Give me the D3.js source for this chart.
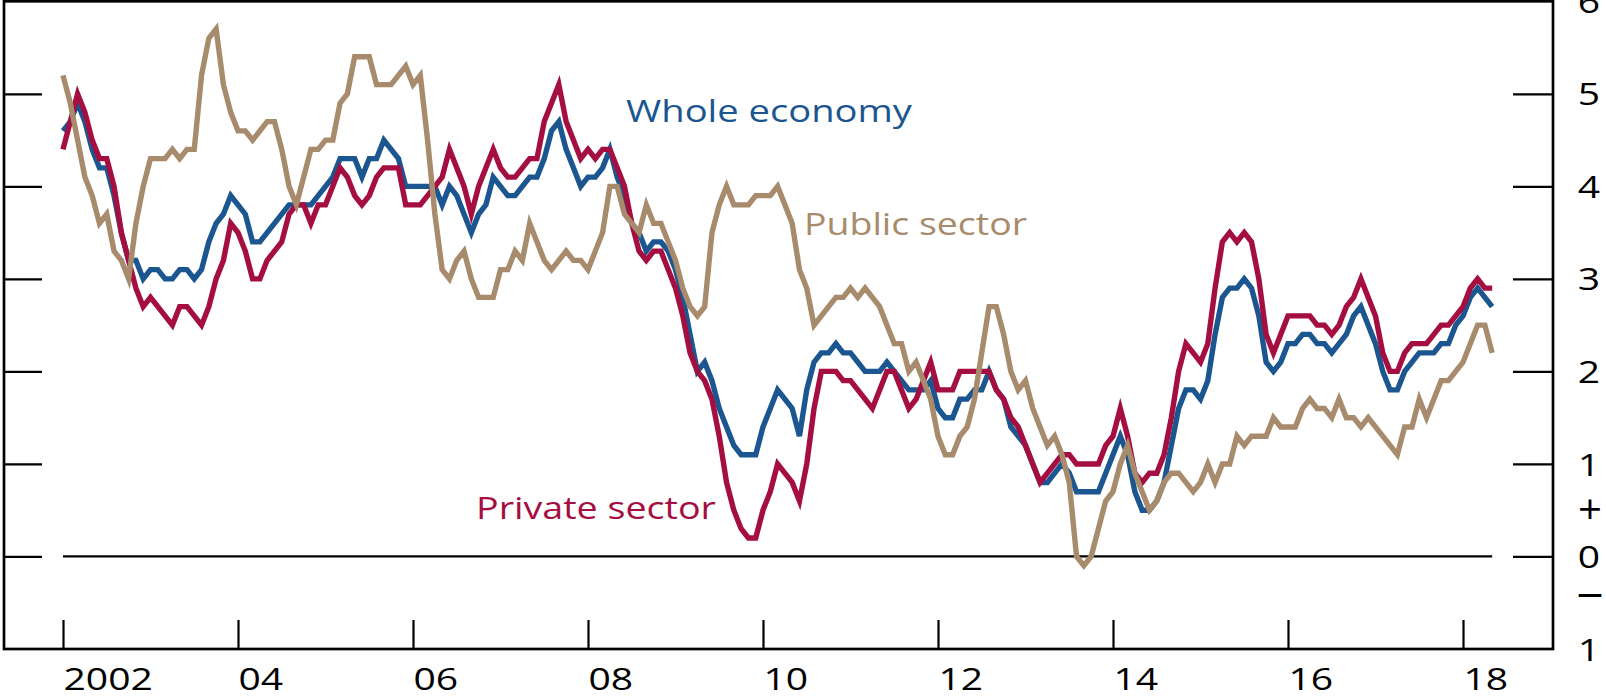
<!DOCTYPE html>
<html><head><meta charset="utf-8">
<script src="https://cdn.jsdelivr.net/npm/d3@7"></script>
<style>html,body{margin:0;padding:0;background:#fff;overflow:hidden}svg{display:block}</style>
</head><body><svg id="chart" width="1606" height="698"></svg>
<script>
// ---- data (monthly, Jan 2002 .. May 2018), percentage change ----
const startYear = 2002;
const wholeEconomy = [
4.6,4.7,4.9,4.7,4.4,4.2,4.2,3.9,3.5,3.2,3.2,3.0,
3.1,3.1,3.0,3.0,3.1,3.1,3.0,3.1,3.4,3.6,3.7,3.9,
3.8,3.7,3.4,3.4,3.5,3.6,3.7,3.8,3.8,3.8,3.8,3.9,
4.0,4.1,4.3,4.3,4.3,4.1,4.3,4.3,4.5,4.4,4.3,4.0,
4.0,4.0,4.0,4.0,3.8,4.0,3.9,3.7,3.5,3.7,3.8,4.1,
4.0,3.9,3.9,4.0,4.1,4.1,4.3,4.6,4.7,4.4,4.2,4.0,
4.1,4.1,4.2,4.4,4.1,3.9,3.6,3.5,3.3,3.4,3.4,3.3,
3.1,2.8,2.4,2.0,2.1,1.9,1.6,1.4,1.2,1.1,1.1,1.1,
1.4,1.6,1.8,1.7,1.6,1.3,1.8,2.1,2.2,2.2,2.3,2.2,
2.2,2.1,2.0,2.0,2.0,2.1,2.0,1.9,1.8,1.8,1.8,1.9,
1.6,1.5,1.5,1.7,1.7,1.8,1.8,2.0,1.8,1.7,1.4,1.3,
1.2,1.0,0.8,0.8,0.9,1.0,0.9,0.7,0.7,0.7,0.7,0.9,
1.1,1.3,1.1,0.7,0.5,0.5,0.6,0.8,1.2,1.6,1.8,1.8,
1.7,1.9,2.4,2.8,2.9,2.9,3.0,2.9,2.6,2.1,2.0,2.1,
2.3,2.3,2.4,2.4,2.3,2.3,2.2,2.3,2.4,2.6,2.7,2.5,
2.3,2.0,1.8,1.8,2.0,2.1,2.2,2.2,2.2,2.3,2.3,2.5,
2.6,2.8,2.9,2.8,2.7
];
const privateSector = [
4.4,4.7,5.0,4.8,4.5,4.3,4.3,4.0,3.5,3.2,2.9,2.7,
2.8,2.7,2.6,2.5,2.7,2.7,2.6,2.5,2.7,3.0,3.2,3.6,
3.5,3.3,3.0,3.0,3.2,3.3,3.4,3.7,3.8,3.8,3.6,3.8,
3.8,4.0,4.2,4.1,3.9,3.8,3.9,4.1,4.2,4.2,4.2,3.8,
3.8,3.8,3.9,4.0,4.1,4.4,4.2,4.0,3.7,4.0,4.2,4.4,
4.2,4.1,4.1,4.2,4.3,4.3,4.7,4.9,5.1,4.7,4.5,4.3,
4.4,4.3,4.4,4.4,4.2,4.0,3.6,3.3,3.2,3.3,3.3,3.1,
2.9,2.6,2.2,2.0,1.9,1.7,1.3,0.8,0.5,0.3,0.2,0.2,
0.5,0.7,1.0,0.9,0.8,0.6,1.0,1.6,2.0,2.0,2.0,1.9,
1.9,1.8,1.7,1.6,1.8,2.0,2.0,1.8,1.6,1.7,1.9,2.1,
1.8,1.8,1.8,2.0,2.0,2.0,2.0,2.0,1.8,1.7,1.5,1.4,
1.2,1.0,0.8,0.9,1.0,1.1,1.1,1.0,1.0,1.0,1.0,1.2,
1.3,1.6,1.3,0.9,0.8,0.9,0.9,1.1,1.5,2.0,2.3,2.2,
2.1,2.3,2.9,3.4,3.5,3.4,3.5,3.4,3.0,2.4,2.2,2.4,
2.6,2.6,2.6,2.6,2.5,2.5,2.4,2.5,2.7,2.8,3.0,2.8,
2.6,2.2,2.0,2.0,2.2,2.3,2.3,2.3,2.4,2.5,2.5,2.6,
2.7,2.9,3.0,2.9,2.9
];
const publicSector = [
5.2,4.9,4.5,4.1,3.9,3.6,3.7,3.3,3.2,3.0,3.6,4.0,
4.3,4.3,4.3,4.4,4.3,4.4,4.4,5.2,5.6,5.7,5.1,4.8,
4.6,4.6,4.5,4.6,4.7,4.7,4.4,4.0,3.8,4.1,4.4,4.4,
4.5,4.5,4.9,5.0,5.4,5.4,5.4,5.1,5.1,5.1,5.2,5.3,
5.1,5.2,4.5,3.7,3.1,3.0,3.2,3.3,3.0,2.8,2.8,2.8,
3.1,3.1,3.3,3.2,3.6,3.4,3.2,3.1,3.2,3.3,3.2,3.2,
3.1,3.3,3.5,4.0,4.0,3.7,3.6,3.5,3.8,3.6,3.6,3.4,
3.2,2.9,2.7,2.6,2.7,3.5,3.8,4.0,3.8,3.8,3.8,3.9,
3.9,3.9,4.0,3.8,3.6,3.1,2.9,2.5,2.6,2.7,2.8,2.8,
2.9,2.8,2.9,2.8,2.7,2.5,2.3,2.3,2.0,2.1,1.9,1.7,
1.3,1.1,1.1,1.3,1.4,1.7,2.2,2.7,2.7,2.4,2.0,1.8,
1.9,1.6,1.4,1.2,1.3,1.1,0.8,0.0,-0.1,0.0,0.3,0.6,
0.7,1.0,1.2,0.9,0.7,0.5,0.6,0.8,0.9,0.9,0.8,0.7,
0.8,1.0,0.8,1.0,1.0,1.3,1.2,1.3,1.3,1.3,1.5,1.4,
1.4,1.4,1.6,1.7,1.6,1.6,1.5,1.7,1.5,1.5,1.4,1.5,
1.4,1.3,1.2,1.1,1.4,1.4,1.7,1.5,1.7,1.9,1.9,2.0,
2.1,2.3,2.5,2.5,2.2
];
const seriesNames = ["Whole economy", "Private sector", "Public sector"];
const yearTicks = [2002, 2004, 2006, 2008, 2010, 2012, 2014, 2016, 2018];
const yearTickLabels = ["2002", "04", "06", "08", "10", "12", "14", "16", "18"];
const valueTicks = [0, 1, 2, 3, 4, 5];
const rightLabelValues = [6, 5, 4, 3, 2, 1, 0, -1];
const rightLabelTexts = ["6", "5", "4", "3", "2", "1", "0", "1"];
const signTexts = ["+", "\u2013"];
const signValues = [0.49, -0.42];

// ---- layout / style ----
const colors = {whole: "#1b5690", priv: "#a50e40", pub: "#a78b6c"};
const FONT = "'Open Sans', 'Noto Sans', sans-serif";
const FS = 31;
const SIGN_FS = 40;
const STRETCH = 1.26;

const svg = d3.select("#chart");
const frame = {left: 4, right: 1553, top: 1.3, bottom: 649};
const x = d3.scaleLinear().domain([2002, 2018]).range([63, 1463]);
const y = d3.scaleLinear().domain([-1, 6]).range([frame.bottom, frame.top]);
const monthX = i => x(startYear + i / 12);

function stretchText(sel, k) {
  sel.each(function () {
    const w = this.getComputedTextLength();
    d3.select(this).attr("textLength", w * k).attr("lengthAdjust", "spacingAndGlyphs");
  });
}

// zero line (spans the data period)
svg.append("line")
  .attr("x1", monthX(0)).attr("x2", monthX(wholeEconomy.length - 1))
  .attr("y1", y(0)).attr("y2", y(0))
  .attr("stroke", "#000").attr("stroke-width", 2.2);

// left ticks (no labels)
const leftAxis = svg.append("g").attr("transform", `translate(${frame.left},0)`)
  .call(d3.axisLeft(y).tickValues(valueTicks).tickSizeInner(-38).tickSizeOuter(0).tickFormat(""));
leftAxis.select(".domain").remove();
leftAxis.selectAll(".tick line").attr("stroke", "#000").attr("stroke-width", 2.2);

// right ticks + labels
const rightAxis = svg.append("g").attr("transform", `translate(${frame.right},0)`)
  .call(d3.axisRight(y).tickValues(rightLabelValues).tickSizeInner(-40).tickSizeOuter(0).tickPadding(36)
    .tickFormat((d, i) => rightLabelTexts[i]));
rightAxis.select(".domain").remove();
rightAxis.selectAll(".tick line")
  .attr("stroke", d => valueTicks.includes(d) ? "#000" : "none").attr("stroke-width", 2.2);
rightAxis.selectAll(".tick text")
  .attr("text-anchor", "middle").attr("dy", null).attr("y", FS * 0.357)
  .attr("font-family", FONT).attr("font-size", FS).attr("fill", "#000")
  .call(stretchText, STRETCH);

// + / - signs
const signWidths = [24, 27];
svg.selectAll("text.sign").data(signTexts).join("text").attr("class", "sign")
  .attr("x", frame.right + 37).attr("y", (d, i) => y(signValues[i]) + (i === 0 ? SIGN_FS * 0.33 : SIGN_FS * 0.26))
  .attr("text-anchor", "middle").attr("font-family", FONT).attr("font-size", SIGN_FS).attr("fill", "#000")
  .attr("textLength", (d, i) => signWidths[i]).attr("lengthAdjust", "spacingAndGlyphs")
  .text(d => d);

// bottom ticks + year labels
const bottomAxis = svg.append("g").attr("transform", `translate(0,${frame.bottom})`)
  .call(d3.axisBottom(x).tickValues(yearTicks).tickSizeInner(-29).tickSizeOuter(0)
    .tickFormat((d, i) => yearTickLabels[i]));
bottomAxis.select(".domain").remove();
bottomAxis.selectAll(".tick line").attr("stroke", "#000").attr("stroke-width", 2.2);
bottomAxis.selectAll(".tick text")
  .attr("text-anchor", "start").attr("x", 0).attr("dy", null).attr("y", 41)
  .attr("font-family", FONT).attr("font-size", FS).attr("fill", "#000")
  .call(stretchText, STRETCH);

// series lines
const line = d3.line().x((d, i) => monthX(i)).y(d => y(d));
const series = [
  {values: wholeEconomy, color: colors.whole},
  {values: privateSector, color: colors.priv},
  {values: publicSector, color: colors.pub}
];
svg.append("g").selectAll("path").data(series).join("path")
  .attr("d", d => line(d.values))
  .attr("fill", "none").attr("stroke", d => d.color)
  .attr("stroke-width", 5.4).attr("stroke-linejoin", "miter").attr("stroke-miterlimit", 4)
  .attr("stroke-linecap", "butt");

// series labels
const labelInfo = [
  {text: seriesNames[0], x: 626, y: 121.5, w: 286, color: colors.whole},
  {text: seriesNames[1], x: 476, y: 519, w: 240, color: colors.priv},
  {text: seriesNames[2], x: 804, y: 235, w: 223, color: colors.pub}
];
svg.selectAll("text.series").data(labelInfo).join("text").attr("class", "series")
  .attr("x", d => d.x).attr("y", d => d.y)
  .attr("font-family", FONT).attr("font-size", FS).attr("fill", d => d.color)
  .attr("textLength", d => d.w).attr("lengthAdjust", "spacingAndGlyphs")
  .text(d => d.text);

// frame
svg.append("rect")
  .attr("x", frame.left).attr("y", frame.top)
  .attr("width", frame.right - frame.left).attr("height", frame.bottom - frame.top)
  .attr("fill", "none").attr("stroke", "#000").attr("stroke-width", 2.7);
</script>
</body></html>
